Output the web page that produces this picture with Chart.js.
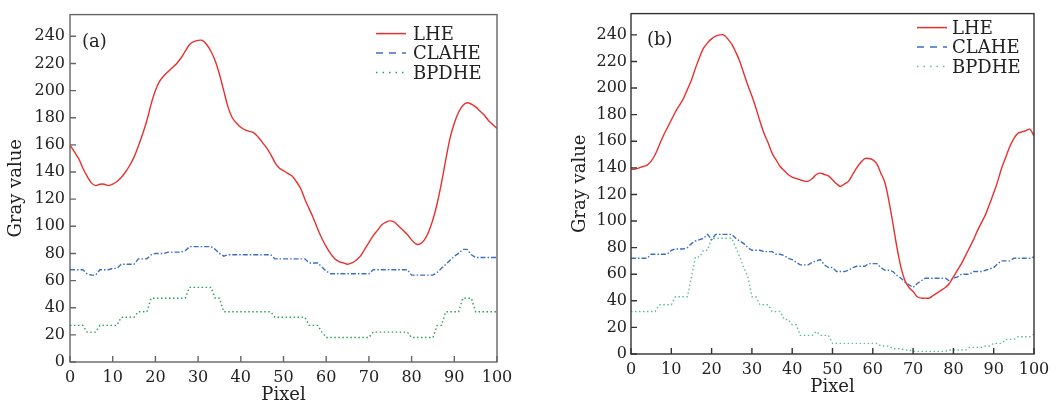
<!DOCTYPE html>
<html>
<head>
<meta charset="utf-8">
<script src="https://cdn.jsdelivr.net/npm/chart.js@4/dist/chart.umd.min.js"></script>
<style>
  html, body { margin: 0; padding: 0; background: #fff; }
  #wrap { position: relative; width: 1056px; height: 406px; }
  .panel { position: absolute; top: 0; width: 528px; height: 406px; }
</style>
</head>
<body>
<div id="wrap">
  <div class="panel" style="left:0"><canvas id="chartA" width="528" height="406"></canvas></div>
  <div class="panel" style="left:528px"><canvas id="chartB" width="528" height="406"></canvas></div>
</div>
<script>
// --- Data ---
const pixels = Array.from({ length: 101 }, (_, i) => i);
const xTicks = [0, 10, 20, 30, 40, 50, 60, 70, 80, 90, 100];
const yTicks = [0, 20, 40, 60, 80, 100, 120, 140, 160, 180, 200, 220, 240];
const seriesNames = ["LHE", "CLAHE", "BPDHE"];

// panel (a)
const lheA = [
  160, 155, 150, 143, 137, 132, 130, 131, 131, 130,
  131, 133, 136, 140, 145, 151, 159, 168, 178, 190,
  200, 207, 211, 214, 217, 220, 224, 229, 234, 236,
  237, 237, 234, 229, 222, 212, 200, 188, 180, 176,
  173, 171, 170, 169, 166, 162, 158, 153, 147, 143,
  141, 139, 137, 133, 128, 120, 113, 106, 98, 91,
  85, 80, 76, 74, 73, 72, 73, 75, 78, 83,
  88, 93, 97, 101, 103, 104, 103, 100, 97, 94,
  90, 87, 87, 90, 96, 105, 117, 132, 149, 165,
  176, 184, 189, 191, 190, 188, 185, 182, 178, 175, 172
];
const claheA = [
  68, 68, 68, 68, 65, 64, 64, 68, 68, 68,
  69, 69, 72, 72, 72, 72, 76, 76, 76, 79,
  80, 80, 80, 81, 81, 81, 81, 82, 85, 85,
  85, 85, 85, 85, 83, 80, 78, 79, 79, 79,
  79, 79, 79, 79, 79, 79, 79, 79, 76, 76,
  76, 76, 76, 76, 76, 76, 73, 73, 73, 70,
  67, 65, 65, 65, 65, 65, 65, 65, 65, 65,
  65, 68, 68, 68, 68, 68, 68, 68, 68, 68,
  64, 64, 64, 64, 64, 64, 66, 69, 72, 75,
  78, 80, 83, 83, 79, 77, 77, 77, 77, 77, 77
];
const bpdheA = [
  27, 27, 27, 27, 22, 22, 22, 27, 27, 27,
  27, 27, 33, 33, 33, 33, 37, 37, 37, 47,
  47, 47, 47, 47, 47, 47, 47, 47, 55, 55,
  55, 55, 55, 55, 47, 47, 37, 37, 37, 37,
  37, 37, 37, 37, 37, 37, 37, 37, 33, 33,
  33, 33, 33, 33, 33, 33, 27, 27, 27, 22,
  18, 18, 18, 18, 18, 18, 18, 18, 18, 18,
  18, 22, 22, 22, 22, 22, 22, 22, 22, 22,
  18, 18, 18, 18, 18, 18, 27, 27, 37, 37,
  37, 37, 47, 47, 47, 37, 37, 37, 37, 37, 37
];

// panel (b)
const lheB = [
  139, 139, 140, 141, 142, 145, 150, 157, 164, 170,
  176, 182, 187, 192, 199, 206, 215, 223, 230, 234,
  237, 239, 240, 240, 237, 233, 227, 220, 211, 202,
  194, 185, 175, 166, 159, 151, 146, 141, 138, 135,
  133, 132, 131, 130, 130, 132, 135, 136, 135, 134,
  131, 128, 126, 128, 130, 135, 140, 144, 147, 147,
  146, 143, 136, 129, 115, 98, 80, 65, 55, 50,
  47, 43, 42, 42, 42, 44, 46, 48, 50, 53,
  58, 63, 68, 74, 80, 86, 93, 99, 105, 113,
  121, 130, 140, 148, 156, 162, 166, 167, 168, 169, 164
];
const claheB = [
  72, 72, 72, 72, 72, 75, 75, 75, 75, 75,
  78, 79, 79, 79, 80, 83, 85, 86, 87, 90,
  86, 90, 90, 90, 90, 90, 87, 85, 83, 80,
  78, 78, 78, 77, 77, 77, 75, 75, 74, 72,
  71, 69, 67, 67, 67, 69, 70, 71, 67, 65,
  65, 62, 62, 62, 63, 65, 66, 66, 66, 68,
  68, 68, 65, 63, 63, 62, 59, 57, 54, 52,
  50, 53, 55, 57, 57, 57, 57, 57, 57, 55,
  57, 58, 60, 60, 60, 62, 62, 62, 63, 64,
  65, 68, 70, 70, 70, 72, 72, 72, 72, 72, 73
];
const bpdheB = [
  32, 32, 32, 32, 32, 32, 32, 37, 37, 37,
  37, 43, 43, 43, 43, 58, 73, 73, 78, 78,
  87, 87, 87, 87, 87, 87, 80, 73, 65, 58,
  43, 43, 37, 37, 37, 32, 32, 32, 26, 26,
  22, 22, 14, 14, 14, 14, 17, 14, 14, 14,
  8, 8, 8, 8, 8, 8, 8, 8, 8, 8,
  8, 8, 6, 6, 6, 4, 4, 4, 3, 3,
  2, 2, 2, 2, 2, 2, 2, 2, 2, 3,
  3, 3, 3, 3, 5, 5, 5, 5, 6, 6,
  8, 8, 8, 11, 11, 11, 13, 13, 13, 13, 15
];

// --- Styles ---
const SERIF = "'DejaVu Serif', 'Liberation Serif', serif";
const RED = "#e8302e";
const BLUE = "#3b70c4";
const lineDash = [[], [5, 2, 1.5, 2], [1.5, 2.5]];
const legendDash = [[], [7, 6], [1.5, 5]];

// frame, inward ticks, panel tag and legend
const framePlugin = {
  id: "frame",
  afterDatasetsDraw(chart, args, o) {
    const { ctx, chartArea: a, scales } = chart;
    ctx.save();
    ctx.strokeStyle = o.color;
    ctx.lineWidth = 1.4;
    ctx.strokeRect(a.left, a.top, a.right - a.left, a.bottom - a.top);

    ctx.beginPath();
    scales.x.ticks.forEach(t => {
      const px = scales.x.getPixelForValue(t.value);
      ctx.moveTo(px, a.bottom);
      ctx.lineTo(px, a.bottom - 6);
    });
    scales.y.ticks.forEach(t => {
      const py = scales.y.getPixelForValue(t.value);
      ctx.moveTo(a.left, py);
      ctx.lineTo(a.left + 6, py);
    });
    ctx.stroke();

    ctx.fillStyle = "#222";
    ctx.font = "18px " + SERIF;
    ctx.textBaseline = "alphabetic";
    ctx.fillText(o.tag, a.left + o.tagX, a.top + o.tagY);

    chart.data.datasets.forEach((ds, i) => {
      const base = a.top + o.legendY + i * 19.5;
      ctx.strokeStyle = ds.borderColor;
      ctx.lineWidth = 1.5;
      ctx.setLineDash(legendDash[i]);
      ctx.beginPath();
      ctx.moveTo(a.right - o.lineX, base - 6);
      ctx.lineTo(a.right - o.lineX + 30, base - 6);
      ctx.stroke();
      ctx.setLineDash([]);
      ctx.fillStyle = "#222";
      ctx.fillText(ds.label, a.right - o.textX, base);
    });
    ctx.restore();
  }
};

function makePanel(id, values, green, lay) {
  const colors = [RED, BLUE, green];
  return new Chart(document.getElementById(id), {
    type: "line",
    data: {
      labels: pixels,
      datasets: values.map((v, i) => ({
        label: seriesNames[i],
        data: v,
        borderColor: colors[i],
        borderWidth: i === 0 ? 1.4 : 1.4,
        borderDash: lineDash[i],
        pointRadius: 0,
        tension: i === 0 ? 0.3 : 0,
        fill: false
      }))
    },
    options: {
      responsive: false,
      animation: false,
      devicePixelRatio: 1,
      layout: { padding: { left: 0, top: lay.top, right: lay.right, bottom: lay.bottom } },
      scales: {
        x: {
          type: "linear",
          min: 0,
          max: 100,
          grid: { display: false, drawTicks: false },
          border: { display: false },
          afterBuildTicks: s => { s.ticks = xTicks.map(value => ({ value })); },
          afterFit: s => { s.height = 44; },
          ticks: { color: "#222", padding: lay.xPad, maxRotation: 0, font: { family: SERIF, size: 16 } },
          title: { display: true, text: "Pixel", color: "#222", padding: 0, font: { family: SERIF, size: 18 } }
        },
        y: {
          min: 0,
          max: 256,
          grid: { display: false, drawTicks: false },
          border: { display: false },
          afterBuildTicks: s => { s.ticks = yTicks.map(value => ({ value })); },
          afterFit: s => { s.width = lay.left; },
          ticks: { color: "#222", padding: lay.yPad, font: { family: SERIF, size: 16 } },
          title: { display: true, text: "Gray value", color: "#222", padding: { top: lay.titlePad, bottom: 0 }, font: { family: SERIF, size: 18 } }
        }
      },
      plugins: {
        legend: { display: false },
        tooltip: { enabled: false },
        frame: lay.frame
      }
    },
    plugins: [framePlugin]
  });
}

makePanel("chartA", [lheA, claheA, bpdheA], "#27a05c", {
  left: 70, top: 10, right: 31, bottom: 0, xPad: 6, yPad: 5, titlePad: 6,
  frame: { color: "#666", tag: "(a)", tagX: 12, tagY: 32, legendY: 25, lineX: 121, textX: 84 }
});

makePanel("chartB", [lheB, claheB, bpdheB], "#5fbf96", {
  left: 103, top: 12, right: 22, bottom: 8, xPad: 6, yPad: 4, titlePad: 42,
  frame: { color: "#333", tag: "(b)", tagX: 16, tagY: 31, legendY: 20, lineX: 117, textX: 82 }
});
</script>
</body>
</html>
